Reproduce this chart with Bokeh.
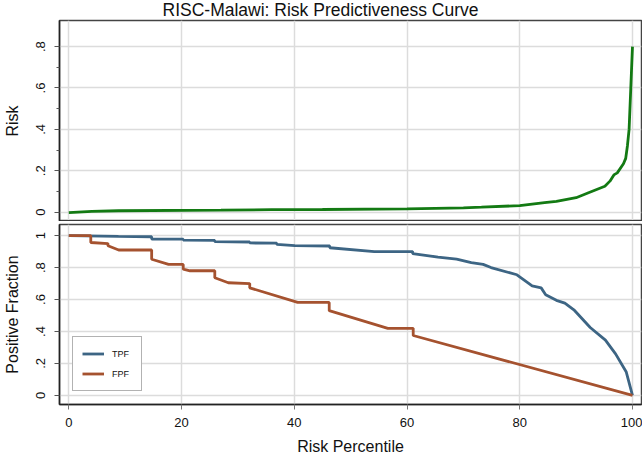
from bokeh.plotting import figure
from bokeh.layouts import column
from bokeh.models import (Range1d, FixedTicker, CustomJSTickFormatter, Legend,
                          LegendItem)
from bokeh.embed import file_html
from bokeh.resources import INLINE

# ---- data ----
risk_pct = [0, 4.1, 8.8, 27, 36, 45, 60, 70, 73.2, 80, 84.4, 86.5, 90, 92.2,
            95.1, 96.0, 96.7, 97.3, 98.4, 98.8, 99.1, 99.4, 99.7, 100]
risk_val = [-0.002, 0.004, 0.007, 0.010, 0.012, 0.013, 0.016, 0.021, 0.024,
            0.032, 0.046, 0.052, 0.070, 0.094, 0.125, 0.150, 0.180, 0.190,
            0.234, 0.260, 0.320, 0.400, 0.600, 0.800]

tpf_pct = [0, 8.8, 14.7, 14.7, 20.3, 20.3, 25.9, 25.9, 32.1, 32.1, 36.9, 36.9,
           40.1, 46.3, 46.3, 54.2, 61, 61, 65.5, 68.8, 71.4, 73.5, 74.9, 79.5,
           82.2, 83.8, 84.6, 86.5, 88, 89.6, 92.5, 95.2, 97, 98.9, 100]
tpf_val = [1, 0.995, 0.993, 0.979, 0.978, 0.972, 0.970, 0.962, 0.960, 0.954,
           0.953, 0.945, 0.937, 0.935, 0.924, 0.900, 0.900, 0.888, 0.866,
           0.853, 0.831, 0.820, 0.800, 0.755, 0.686, 0.673, 0.630, 0.595,
           0.578, 0.536, 0.425, 0.346, 0.260, 0.146, 0]

fpf_pct = [0, 3.9, 3.9, 6.95, 6.95, 8.85, 14.7, 14.7, 17.7, 20.3, 20.3, 21.5,
           25.9, 25.9, 28.3, 32.1, 32.1, 40.6, 46.2, 46.2, 56.6, 61.1, 61.1, 100]
fpf_val = [1, 1, 0.957, 0.950, 0.937, 0.910, 0.910, 0.852, 0.820, 0.820,
           0.790, 0.780, 0.780, 0.736, 0.705, 0.700, 0.673, 0.582, 0.582,
           0.530, 0.420, 0.420, 0.375, 0]

x_ticks = [0, 20, 40, 60, 80, 100]
risk_ticks = [0, 0.2, 0.4, 0.6, 0.8]
risk_minor = [0.1, 0.3, 0.5, 0.7]
frac_ticks = [0, 0.2, 0.4, 0.6, 0.8, 1.0]

title_text = "RISC-Malawi: Risk Predictiveness Curve"

FONT = "Liberation Sans"
GREEN = "#137a13"
BLUE = "#3d6584"
BROWN = "#a5522f"
GRID = "#dcdcdc"

fmt = CustomJSTickFormatter(code="""
if (Math.abs(tick) < 1e-9) return '0';
if (Math.abs(tick - 1) < 1e-9) return '1';
return tick.toFixed(1).replace(/^0/, '');
""")

xr = Range1d(-1.65, 101.6)
W = 642


def style(p):
    p.outline_line_color = "#444444"
    p.outline_line_width = 1.5
    p.xgrid.ticker = FixedTicker(ticks=x_ticks)
    p.xgrid.grid_line_color = GRID
    p.xgrid.grid_line_width = 1.5
    p.ygrid.grid_line_color = GRID
    p.ygrid.grid_line_width = 1.5
    ya = p.yaxis[0]
    ya.formatter = fmt
    ya.major_label_orientation = "vertical"
    ya.major_label_text_font = FONT
    ya.major_label_text_font_size = "13px"
    ya.major_label_text_color = "#111111"
    ya.major_label_standoff = 9
    ya.axis_label_text_font = FONT
    ya.axis_label_text_font_size = "16px"
    ya.axis_label_text_font_style = "normal"
    ya.axis_label_text_color = "#111111"
    ya.axis_label_standoff = 13
    ya.axis_line_color = "#222222"
    ya.axis_line_width = 1.5
    ya.major_tick_line_color = "#555555"
    ya.major_tick_out = 5
    ya.major_tick_in = 0
    ya.minor_tick_line_color = "#555555"
    ya.minor_tick_out = 3
    ya.minor_tick_in = 0


# ---- top panel ----
p1 = figure(width=W, height=221, x_range=xr, y_range=Range1d(-0.045, 0.926),
            output_backend="svg", toolbar_location=None, title=title_text,
            min_border_left=57, min_border_right=1, min_border_top=20,
            min_border_bottom=0)
style(p1)
p1.title.text_font = FONT
p1.title.text_font_size = "17.5px"
p1.title.text_font_style = "normal"
p1.title.text_color = "#111111"
p1.title.align = "left"
p1.title.offset = 103
p1.title.standoff = -2
p1.title.vertical_align = "top"
p1.title.text_line_height = 1.0
p1.yaxis.ticker = FixedTicker(ticks=risk_ticks, minor_ticks=risk_minor)
p1.yaxis.axis_label = "Risk"
p1.ygrid.ticker = FixedTicker(ticks=risk_ticks)
xa1 = p1.xaxis[0]
xa1.ticker = FixedTicker(ticks=[], minor_ticks=[])
xa1.major_label_standoff = 0
xa1.major_tick_out = 0
xa1.major_tick_in = 0
xa1.minor_tick_out = 0
xa1.minor_tick_in = 0
xa1.axis_line_color = "#3a3a3a"
xa1.axis_line_width = 3

p1.line(risk_pct, risk_val, line_color=GREEN, line_width=2.8)

# ---- bottom panel ----
p2 = figure(width=W, height=236, x_range=xr, y_range=Range1d(-0.057, 1.0696),
            output_backend="svg", toolbar_location=None,
            min_border_left=57, min_border_right=1, min_border_top=3,
            min_border_bottom=0)
style(p2)
p2.yaxis.ticker = FixedTicker(ticks=frac_ticks, minor_ticks=[])
p2.yaxis.axis_label = "Positive Fraction"
p2.ygrid.ticker = FixedTicker(ticks=frac_ticks)
xa2 = p2.xaxis[0]
xa2.ticker = FixedTicker(ticks=x_ticks, minor_ticks=[])
xa2.axis_label = "Risk Percentile"
xa2.axis_label_text_font = FONT
xa2.axis_label_text_font_size = "16px"
xa2.axis_label_text_font_style = "normal"
xa2.axis_label_text_color = "#111111"
xa2.axis_label_text_line_height = 1.0
xa2.axis_label_standoff = 8
xa2.major_label_text_font = FONT
xa2.major_label_text_font_size = "13px"
xa2.major_label_text_color = "#111111"
xa2.major_label_standoff = 8
xa2.axis_line_color = "#222222"
xa2.axis_line_width = 1.5
xa2.major_tick_line_color = "#777777"
xa2.major_tick_out = 5
xa2.major_tick_in = 0

r_tpf = p2.line(tpf_pct, tpf_val, line_color=BLUE, line_width=2.8)
r_fpf = p2.line(fpf_pct, fpf_val, line_color=BROWN, line_width=2.8)

leg = Legend(items=[LegendItem(label="TPF", renderers=[r_tpf]),
                    LegendItem(label="FPF", renderers=[r_fpf])],
             location=(13, 13), margin=0, padding=9, spacing=5,
             glyph_width=22, glyph_height=15, label_standoff=8,
             label_text_font=FONT, label_text_font_size="9px",
             label_text_color="#111111", label_height=15,
             border_line_color="#666666", border_line_width=1,
             background_fill_color="white", background_fill_alpha=1)
p2.add_layout(leg, "center")

layout = column(p1, p2, spacing=0)
open("out.html", "w").write(file_html(layout, INLINE))
